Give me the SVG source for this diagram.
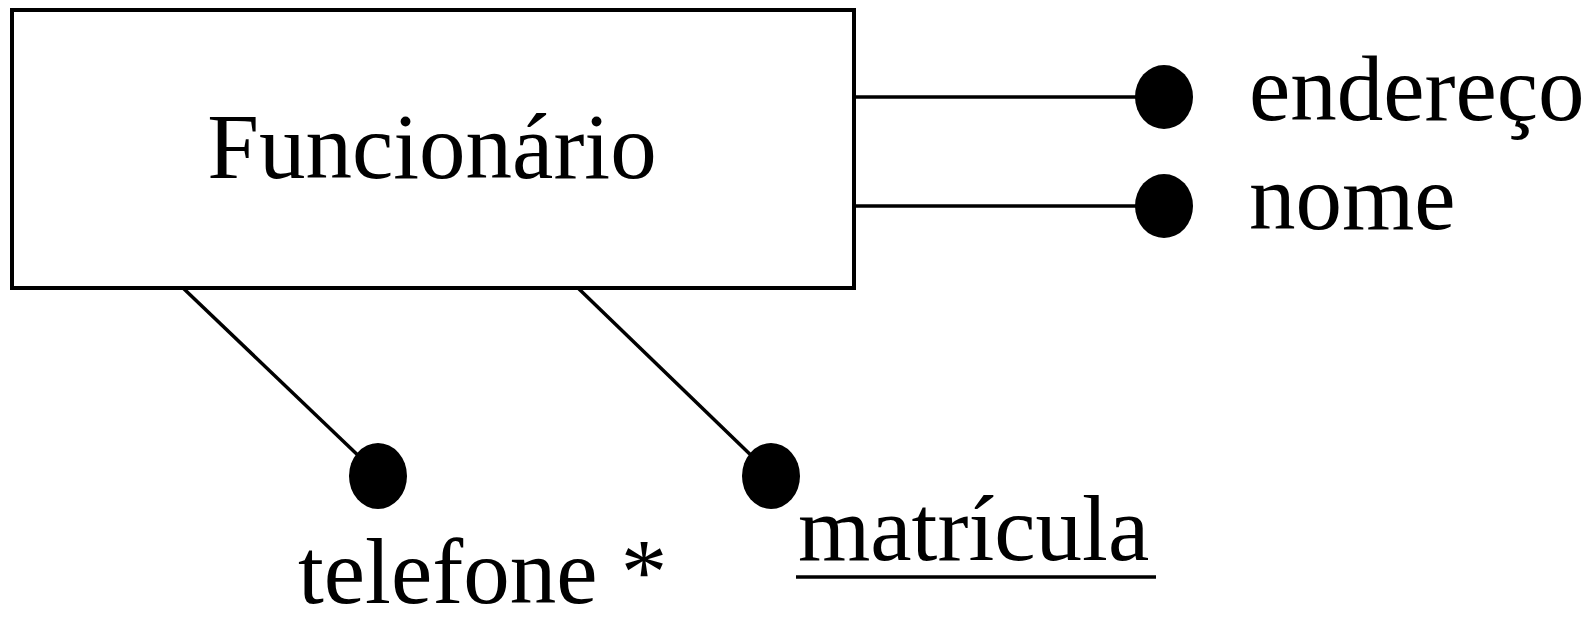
<svg xmlns="http://www.w3.org/2000/svg" width="1594" height="623" viewBox="0 0 1594 623">
<style>
.t{font-family:"Liberation Serif","Times New Roman",serif;font-size:93px;fill:#000}
.ln{stroke:#000;stroke-width:3.5;fill:none}
.dot{fill:#000}
</style>
<rect width="1594" height="623" fill="#fff"/>
<g id="funcionario">
<rect x="12" y="10" width="842" height="278" fill="#fff" stroke="#000" stroke-width="4"/>
<text class="t" x="432" y="178" text-anchor="middle">Funcionário</text>
</g>
<g id="connectors">
<line class="ln" x1="854" y1="97" x2="1145" y2="97"/>
<line class="ln" x1="854" y1="206" x2="1145" y2="206"/>
<line class="ln" x1="183" y1="288" x2="365" y2="462"/>
<line class="ln" x1="578" y1="288" x2="758" y2="462"/>
</g>
<g id="endereco">
<ellipse class="dot" cx="1164" cy="97" rx="29" ry="32"/>
<text class="t" x="1249" y="120">endereço</text>
</g>
<g id="nome">
<ellipse class="dot" cx="1164" cy="206" rx="29" ry="32"/>
<text class="t" x="1249" y="229">nome</text>
</g>
<g id="telefone">
<ellipse class="dot" cx="378" cy="476" rx="29" ry="33"/>
<text class="t" x="298" y="603">telefone *</text>
</g>
<g id="matricula">
<ellipse class="dot" cx="771" cy="476" rx="29" ry="33"/>
<text class="t" x="798" y="560">matrícula</text>
<line class="ln" x1="796" y1="577" x2="1156" y2="577"/>
</g>
</svg>
